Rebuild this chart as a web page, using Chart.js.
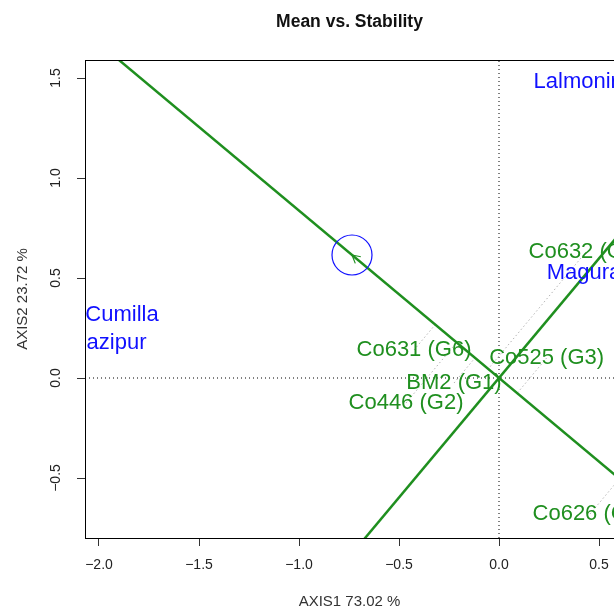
<!DOCTYPE html>
<html>
<head>
<meta charset="utf-8">
<script src="https://cdn.jsdelivr.net/npm/chart.js@4.4.1/dist/chart.umd.min.js"></script>
<style>
  html, body { margin: 0; padding: 0; overflow: hidden; background: #fff; }
  #wrap { width: 614px; height: 610px; }
</style>
</head>
<body>
<div id="wrap"><canvas id="grafico" width="614" height="610"></canvas></div>
<script>
// Genotipos (verde)
const genoNames = ['BM2 (G1)', 'Co446 (G2)', 'Co525 (G3)', 'Co626 (G4)', 'Co632 (G5)', 'Co631 (G6)'];
const genoX = [-0.225, -0.465, 0.238, 0.455, 0.435, -0.425];
const genoY = [-0.025, -0.125, 0.10, -0.68, 0.63, 0.14];

// Ambientes (azul)
const envNames = ['Lalmonirhat', 'Magura', 'Cumilla', 'Gazipur'];
const envX = [0.46, 0.425, -1.885, -1.955];
const envY = [1.48, 0.525, 0.315, 0.175];

// Ambiente promedio
const avgEnv = [-0.735, 0.615];

// Ejes
const xTicks = [-2.0, -1.5, -1.0, -0.5, 0.0, 0.5];
const yTicks = [-0.5, 0.0, 0.5, 1.0, 1.5];
const xRange = [-2.07, 0.575];
const yRange = [-0.8, 1.59];

const GREEN = '#1f8f1f';
const BLUE = '#1010ff';
const FONT = '"Liberation Sans", Arial, sans-serif';

const fmt = v => v.toFixed(1).replace('-', '\u2212');

// Líneas a través del origen
const aea = [-3, 3].map(t => ({ x: t * avgEnv[0], y: t * avgEnv[1] }));
const ord = [-3, 3].map(t => ({ x: t * avgEnv[1], y: -t * avgEnv[0] }));

// Proyecciones de cada genotipo sobre el eje del ambiente promedio
const len2 = avgEnv[0] * avgEnv[0] + avgEnv[1] * avgEnv[1];
const projSets = genoX.map((gx, i) => {
  const k = (gx * avgEnv[0] + genoY[i] * avgEnv[1]) / len2;
  return {
    type: 'line',
    data: [{ x: gx, y: genoY[i] }, { x: k * avgEnv[0], y: k * avgEnv[1] }],
    borderColor: '#b4b4b4',
    borderWidth: 1,
    borderDash: [1.5, 2.5],
    pointRadius: 0,
    order: 5
  };
});

const boxPlugin = {
  id: 'boxAndText',
  afterDatasetsDraw(chart) {
    const { ctx, chartArea: a, scales: { x, y } } = chart;
    ctx.save();

    // flecha hacia el ambiente promedio
    const px = x.getPixelForValue(avgEnv[0]);
    const py = y.getPixelForValue(avgEnv[1]);
    const ang = Math.atan2(py - y.getPixelForValue(0), px - x.getPixelForValue(0));
    ctx.strokeStyle = GREEN;
    ctx.lineWidth = 1.2;
    ctx.beginPath();
    [0.5, -0.5].forEach(d => {
      ctx.moveTo(px, py);
      ctx.lineTo(px - 9 * Math.cos(ang + d), py - 9 * Math.sin(ang + d));
    });
    ctx.stroke();

    // etiquetas recortadas al área del gráfico
    ctx.save();
    ctx.beginPath();
    ctx.rect(a.left, a.top, a.right - a.left, a.bottom - a.top);
    ctx.clip();
    ctx.font = '22px ' + FONT;
    ctx.textAlign = 'center';
    ctx.textBaseline = 'middle';
    ctx.fillStyle = GREEN;
    genoNames.forEach((n, i) => {
      ctx.fillText(n, x.getPixelForValue(genoX[i]), y.getPixelForValue(genoY[i]));
    });
    ctx.fillStyle = BLUE;
    envNames.forEach((n, i) => {
      ctx.fillText(n, x.getPixelForValue(envX[i]), y.getPixelForValue(envY[i]));
    });
    ctx.restore();

    // caja
    ctx.strokeStyle = '#000';
    ctx.lineWidth = 1;
    ctx.strokeRect(Math.round(a.left) + 0.5, Math.round(a.top) + 0.5,
      Math.round(a.right - a.left), Math.round(a.bottom - a.top));

    // títulos
    const cx = (a.left + a.right) / 2;
    ctx.fillStyle = '#111';
    ctx.textAlign = 'center';
    ctx.textBaseline = 'middle';
    ctx.font = 'bold 17.5px ' + FONT;
    ctx.fillText('Mean vs. Stability', cx, 22);
    ctx.fillStyle = '#333';
    ctx.font = '15px ' + FONT;
    ctx.fillText('AXIS1 73.02 %', cx, 602);

    ctx.save();
    ctx.translate(23, (a.top + a.bottom) / 2);
    ctx.rotate(-Math.PI / 2);
    ctx.fillText('AXIS2 23.72 %', 0, 0);
    ctx.restore();

    // etiquetas de los ejes (el eje y girado como en R)
    ctx.font = '14px ' + FONT;
    ctx.fillStyle = '#222';
    x.ticks.forEach(t => {
      ctx.fillText(fmt(t.value), x.getPixelForValue(t.value), a.bottom + 27);
    });
    y.ticks.forEach(t => {
      ctx.save();
      ctx.translate(56, y.getPixelForValue(t.value));
      ctx.rotate(-Math.PI / 2);
      ctx.fillText(fmt(t.value), 0, 0);
      ctx.restore();
    });
    ctx.restore();
  }
};

const ctx = document.getElementById('grafico').getContext('2d');

new Chart(ctx, {
  type: 'scatter',
  data: {
    datasets: [
      {
        type: 'line',
        data: [{ x: 0, y: yRange[0] - 1 }, { x: 0, y: yRange[1] + 1 }],
        borderColor: '#000', borderWidth: 1, borderDash: [1, 3], pointRadius: 0, order: 6
      },
      {
        type: 'line',
        data: [{ x: xRange[0] - 1, y: 0 }, { x: xRange[1] + 1, y: 0 }],
        borderColor: '#000', borderWidth: 1, borderDash: [1, 3], pointRadius: 0, order: 6
      },
      ...projSets,
      {
        type: 'line', data: aea,
        borderColor: GREEN, borderWidth: 2.5, pointRadius: 0, order: 2
      },
      {
        type: 'line', data: ord,
        borderColor: GREEN, borderWidth: 2.5, pointRadius: 0, order: 2
      },
      {
        data: [{ x: avgEnv[0], y: avgEnv[1] }],
        pointRadius: 20, pointStyle: 'circle',
        borderColor: BLUE, borderWidth: 1.2,
        backgroundColor: 'rgba(0,0,0,0)', order: 1
      }
    ]
  },
  options: {
    responsive: false,
    animation: false,
    events: [],
    layout: { autoPadding: false, padding: { top: 60, right: 0, left: 0, bottom: 0 } },
    plugins: { legend: { display: false }, tooltip: { enabled: false } },
    scales: {
      x: {
        type: 'linear', min: xRange[0], max: xRange[1],
        afterBuildTicks: s => { s.ticks = xTicks.map(v => ({ value: v })); },
        afterFit: s => { s.height = 72; },
        grid: { drawOnChartArea: false, tickLength: 8, color: '#333' },
        border: { display: false },
        ticks: { autoSkip: false, maxRotation: 0, padding: 0, callback: () => '' }
      },
      y: {
        type: 'linear', min: yRange[0], max: yRange[1],
        afterBuildTicks: s => { s.ticks = yTicks.map(v => ({ value: v })); },
        afterFit: s => { s.width = 85; },
        grid: { drawOnChartArea: false, tickLength: 8, color: '#333' },
        border: { display: false },
        ticks: { autoSkip: false, padding: 0, callback: () => '' }
      }
    }
  },
  plugins: [boxPlugin]
});
</script>
</body>
</html>
